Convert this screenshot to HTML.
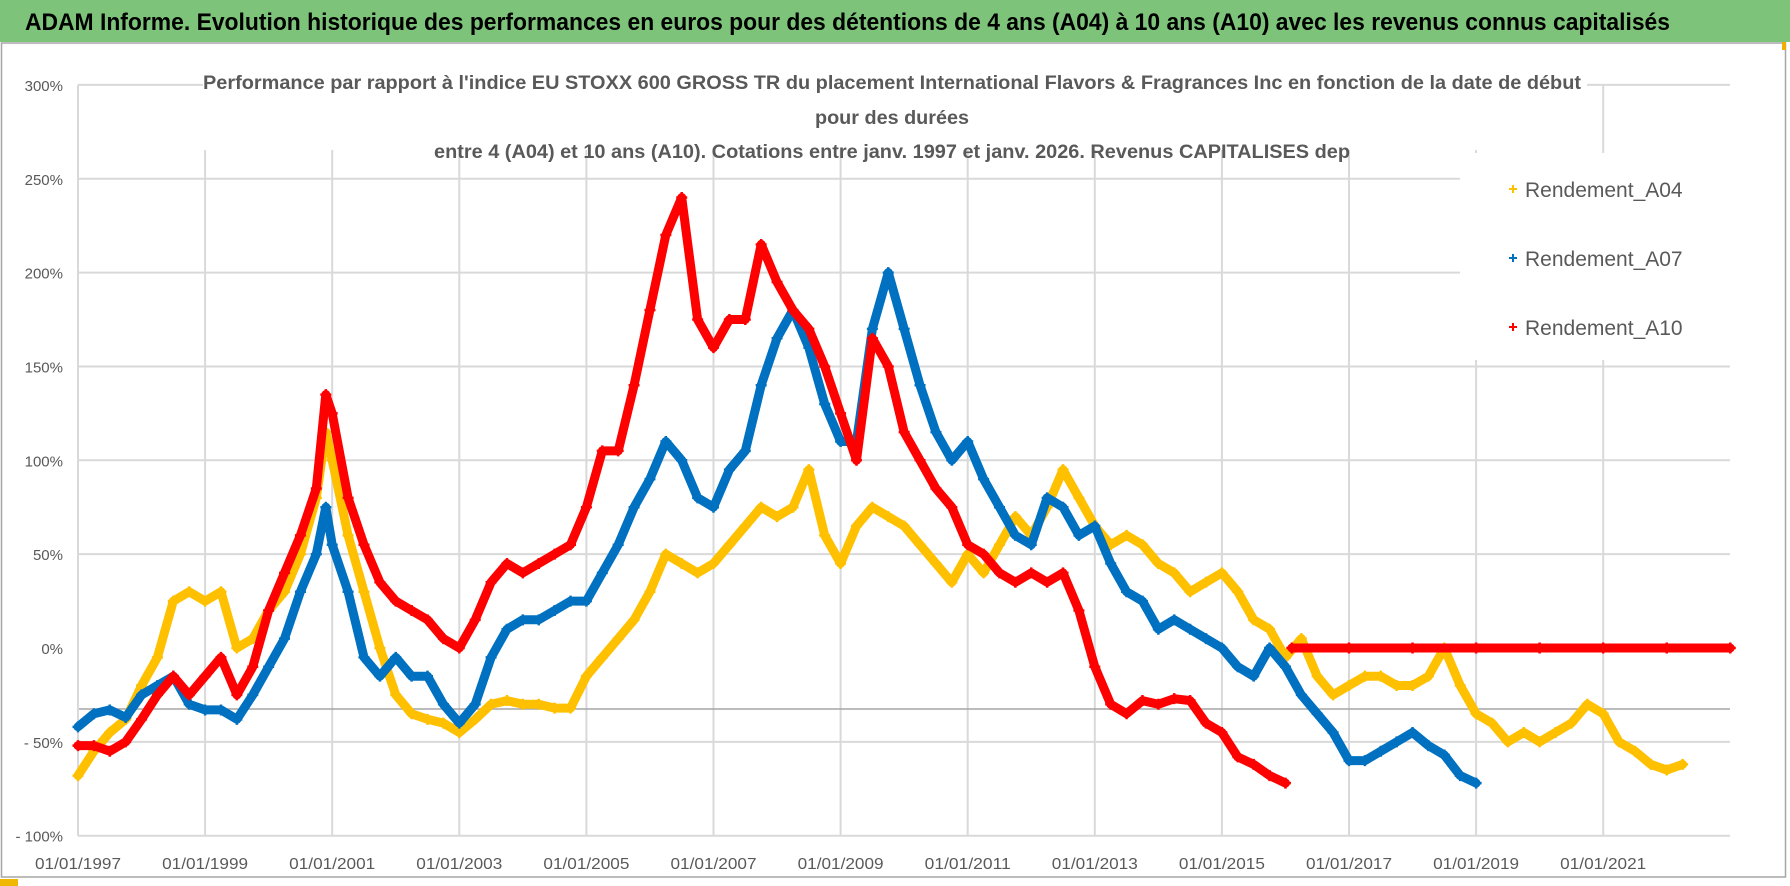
<!DOCTYPE html>
<html><head><meta charset="utf-8"><style>
html,body{margin:0;padding:0;background:#fff;}
svg{display:block;font-family:"Liberation Sans",sans-serif;}
</style></head><body>
<svg id="chart" width="1790" height="886" viewBox="0 0 1790 886">
<rect x="0" y="0" width="1790" height="886" fill="#fff"/>
<rect x="0" y="0" width="1790" height="42" fill="#7dc47a"/>
<text x="25" y="30" font-size="24" font-weight="bold" fill="#000" textLength="1645" lengthAdjust="spacingAndGlyphs">ADAM Informe. Evolution historique des performances en euros pour des détentions de 4 ans (A04) à 10 ans (A10) avec les revenus connus capitalisés</text>
<rect x="1.5" y="43" width="1784" height="834" fill="none" stroke="#a6a6a6" stroke-width="1.5"/>
<rect x="1782" y="42" width="4" height="8" fill="#f0b000"/>
<rect x="0" y="879" width="18" height="7" fill="#f0b800"/>
<g id="grid"></g>
<g id="series"></g>
<rect x="203" y="62" width="1384" height="88" fill="#fff"/>
<text x="892" y="89" text-anchor="middle" font-size="19" font-weight="bold" fill="#595959" textLength="1378" lengthAdjust="spacingAndGlyphs">Performance par rapport à l'indice EU STOXX 600 GROSS TR  du placement International Flavors &amp; Fragrances Inc en fonction de la date de début</text>
<text x="892" y="124" text-anchor="middle" font-size="19" font-weight="bold" fill="#595959" textLength="154" lengthAdjust="spacingAndGlyphs">pour des durées</text>
<text x="892" y="158" text-anchor="middle" font-size="19" font-weight="bold" fill="#595959" textLength="916" lengthAdjust="spacingAndGlyphs">entre 4 (A04) et 10 ans (A10).  Cotations entre janv. 1997 et janv. 2026. Revenus CAPITALISES  dep</text>
<g>
<rect x="1460" y="153" width="270" height="207" fill="#fff"/>
<g><path d="M1509 189h8M1513 185v8" stroke="#ffc000" stroke-width="2"/><text x="1525" y="197" font-size="21" fill="#595959">Rendement_A04</text></g>
<g><path d="M1509 258h8M1513 254v8" stroke="#0070c0" stroke-width="2"/><text x="1525" y="266" font-size="21" fill="#595959">Rendement_A07</text></g>
<g><path d="M1509 327h8M1513 323v8" stroke="#ff0000" stroke-width="2"/><text x="1525" y="335" font-size="21" fill="#595959">Rendement_A10</text></g>
</g>
<g id="axes"></g>
</svg>
<script>
const yTicks = [300,250,200,150,100,50,0,-50,-100];
const yTickLabels = ["300%","250%","200%","150%","100%","50%","0%","- 50%","- 100%"];
const xTicks = [1997,1999,2001,2003,2005,2007,2009,2011,2013,2015,2017,2019,2021];
const xTickLabels = ["01/01/1997","01/01/1999","01/01/2001","01/01/2003","01/01/2005","01/01/2007","01/01/2009","01/01/2011","01/01/2013","01/01/2015","01/01/2017","01/01/2019","01/01/2021"];

const a04Dates = [1997,1997.25,1997.5,1997.75,1998,1998.25,1998.5,1998.75,1999,1999.25,1999.5,1999.75,2000,2000.25,2000.5,2000.75,2000.9,2001,2001.25,2001.5,2001.75,2002,2002.25,2002.5,2002.75,2003,2003.25,2003.5,2003.75,2004,2004.25,2004.5,2004.75,2005,2005.25,2005.5,2005.75,2006,2006.25,2006.5,2006.75,2007,2007.25,2007.5,2007.75,2008,2008.25,2008.5,2008.75,2009,2009.25,2009.5,2009.75,2010,2010.25,2010.5,2010.75,2011,2011.25,2011.5,2011.75,2012,2012.25,2012.5,2012.75,2013,2013.25,2013.5,2013.75,2014,2014.25,2014.5,2014.75,2015,2015.25,2015.5,2015.75,2016,2016.25,2016.5,2016.75,2017,2017.25,2017.5,2017.75,2018,2018.25,2018.5,2018.75,2019,2019.25,2019.5,2019.75,2020,2020.25,2020.5,2020.75,2021,2021.25,2021.5,2021.75,2022,2022.25];
const a04Values = [-68,-55,-45,-38,-20,-5,25,30,25,30,0,5,20,30,50,80,115,100,60,30,0,-25,-35,-38,-40,-45,-38,-30,-28,-30,-30,-32,-32,-15,-5,5,15,30,50,45,40,45,55,65,75,70,75,95,60,45,65,75,70,65,55,45,35,50,40,55,70,60,75,95,80,65,55,60,55,45,40,30,35,40,30,15,10,-5,5,-15,-25,-20,-15,-15,-20,-20,-15,0,-20,-35,-40,-50,-45,-50,-45,-40,-30,-35,-50,-55,-62,-65,-62];

const a07Dates = [1997,1997.25,1997.5,1997.75,1998,1998.25,1998.5,1998.75,1999,1999.25,1999.5,1999.75,2000,2000.25,2000.5,2000.75,2000.9,2001,2001.25,2001.5,2001.75,2002,2002.25,2002.5,2002.75,2003,2003.25,2003.5,2003.75,2004,2004.25,2004.5,2004.75,2005,2005.25,2005.5,2005.75,2006,2006.25,2006.5,2006.75,2007,2007.25,2007.5,2007.75,2008,2008.25,2008.5,2008.75,2009,2009.25,2009.5,2009.75,2010,2010.25,2010.5,2010.75,2011,2011.25,2011.5,2011.75,2012,2012.25,2012.5,2012.75,2013,2013.25,2013.5,2013.75,2014,2014.25,2014.5,2014.75,2015,2015.25,2015.5,2015.75,2016,2016.25,2016.5,2016.75,2017,2017.25,2017.5,2017.75,2018,2018.25,2018.5,2018.75,2019];
const a07Values = [-42,-35,-33,-37,-25,-20,-15,-30,-33,-33,-38,-25,-10,5,30,50,75,55,30,-5,-15,-5,-15,-15,-30,-40,-30,-5,10,15,15,20,25,25,40,55,75,90,110,100,80,75,95,105,140,165,180,160,130,110,110,170,200,170,140,115,100,110,90,75,60,55,80,75,60,65,45,30,25,10,15,10,5,0,-10,-15,0,-10,-25,-35,-45,-60,-60,-55,-50,-45,-52,-57,-68,-72];

const a10Dates = [1997,1997.25,1997.5,1997.75,1998,1998.25,1998.5,1998.75,1999,1999.25,1999.5,1999.75,2000,2000.25,2000.5,2000.75,2000.9,2001,2001.25,2001.5,2001.75,2002,2002.25,2002.5,2002.75,2003,2003.25,2003.5,2003.75,2004,2004.25,2004.5,2004.75,2005,2005.25,2005.5,2005.75,2006,2006.25,2006.5,2006.75,2007,2007.25,2007.5,2007.75,2008,2008.25,2008.5,2008.75,2009,2009.25,2009.5,2009.75,2010,2010.25,2010.5,2010.75,2011,2011.25,2011.5,2011.75,2012,2012.25,2012.5,2012.75,2013,2013.25,2013.5,2013.75,2014,2014.25,2014.5,2014.75,2015,2015.25,2015.5,2015.75,2016];
const a10Values = [-52,-52,-55,-50,-38,-25,-15,-25,-15,-5,-25,-10,20,40,60,85,135,125,80,55,35,25,20,15,5,0,15,35,45,40,45,50,55,75,105,105,140,180,220,240,175,160,175,175,215,195,180,170,150,125,100,165,150,115,100,85,75,55,50,40,35,40,35,40,20,-10,-30,-35,-28,-30,-27,-28,-40,-45,-58,-62,-68,-72];
const a10FlatDates = [2016.1,2017,2018,2019,2020,2021,2022,2023];
const a10FlatValues = [0,0,0,0,0,0,0,0];

const NS = "http://www.w3.org/2000/svg";
const X0 = 78, X1 = 1730, Y0 = 648, PX_PER_YEAR = 63.55, PX_PER_PCT = 1.877;
function xScale(d){ return X0 + (d - 1997) * PX_PER_YEAR; }
function yScale(v){ return Y0 - v * PX_PER_PCT; }
function mk(tag, attrs, parent){ const e = document.createElementNS(NS, tag); for (const k in attrs) e.setAttribute(k, attrs[k]); parent.appendChild(e); return e; }

const grid = document.getElementById('grid');
yTicks.forEach((t) => {
  if (t === 0) return;
  const gl = mk('line', {x1:X0, x2:X1, y1:yScale(t), y2:yScale(t), stroke:'#d9d9d9', 'stroke-width':2}, grid);
  
  
});
xTicks.forEach((t) => {
  const gl = mk('line', {x1:xScale(t), x2:xScale(t), y1:yScale(300), y2:yScale(-100), stroke:'#d9d9d9', 'stroke-width':2}, grid);
  
  
});
const ax = mk('line', {x1:X0, x2:X1, y1:709, y2:709, stroke:'#a6a6a6', 'stroke-width':1.5}, grid);


const lax = mk('line', {x1:X0, x2:X0, y1:yScale(300), y2:yScale(-100), stroke:'#d9d9d9', 'stroke-width':2}, grid);



const axes = document.getElementById('axes');
yTicks.forEach((t, i) => {
  const tx = mk('text', {x:63, y:yScale(t)+6, 'text-anchor':'end', 'font-size':15, fill:'#595959'}, axes);
  tx.textContent = yTickLabels[i];
  
  
});
xTicks.forEach((t, i) => {
  const tx = mk('text', {x:xScale(t), y:869, 'text-anchor':'middle', 'font-size':16, fill:'#595959', textLength:86, lengthAdjust:'spacingAndGlyphs'}, axes);
  tx.textContent = xTickLabels[i];
  
  
});

const seriesG = document.getElementById('series');
function drawSeries(dates, values, color, name){
  const g = mk('g', {}, seriesG);
  
  
  const pts = dates.map((d, i) => xScale(d).toFixed(1) + ',' + yScale(values[i]).toFixed(1)).join(' ');
  const pl = mk('polyline', {points:pts, fill:'none', stroke:color, 'stroke-width':9, 'stroke-linejoin':'round', 'stroke-linecap':'round'}, g);
  
  
  dates.forEach((d, i) => {
    const x = xScale(d), y = yScale(values[i]);
    const m = mk('path', {d:`M${x-5.5} ${y}h11M${x} ${y-5.5}v11`, stroke:color, 'stroke-width':2.5}, g);
    
    
  });
}
drawSeries(a04Dates, a04Values, '#ffc000', 'series-a04');
drawSeries(a07Dates, a07Values, '#0070c0', 'series-a07');
drawSeries(a10Dates, a10Values, '#ff0000', 'series-a10');
drawSeries(a10FlatDates, a10FlatValues, '#ff0000', 'series-a10-flat');
</script>
</body></html>
